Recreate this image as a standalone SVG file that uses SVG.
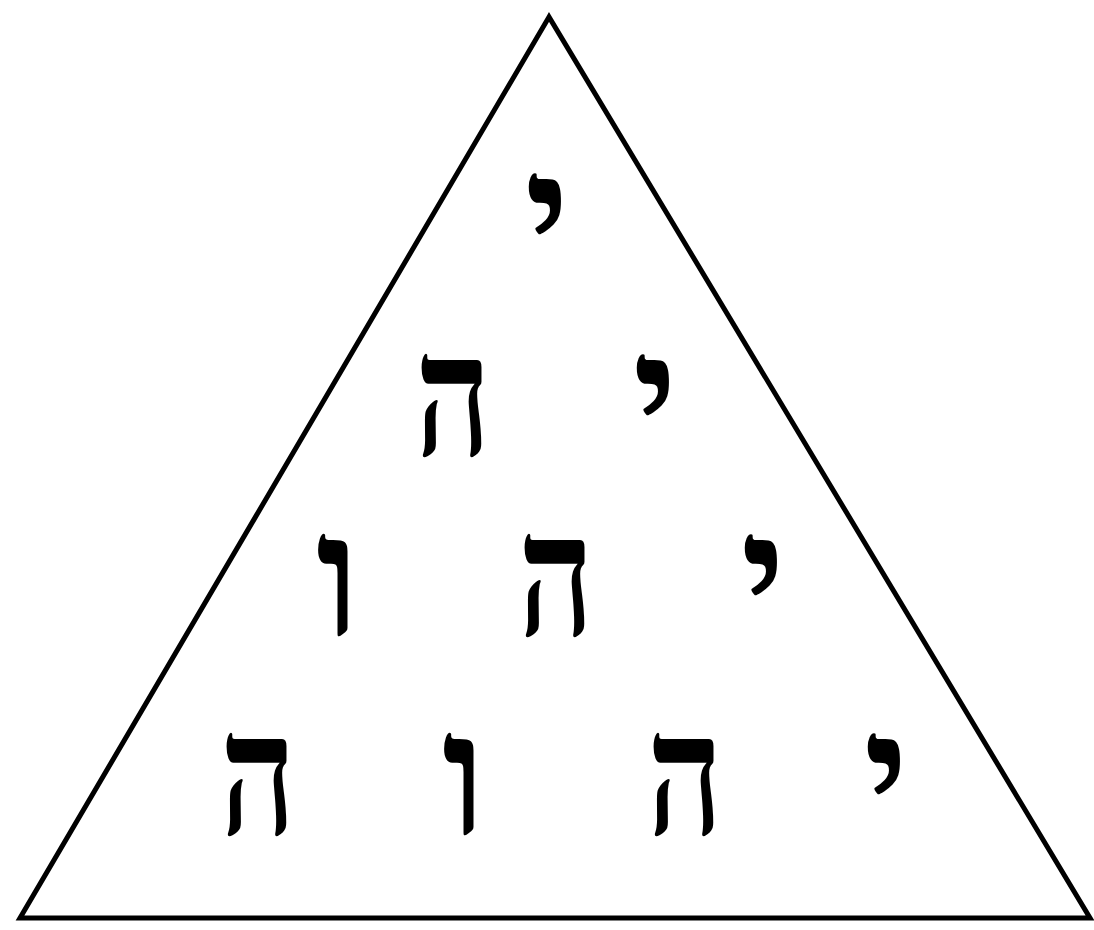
<svg xmlns="http://www.w3.org/2000/svg" width="1094" height="930" viewBox="0 0 1094 930">
<style>
.l{font-family:"Liberation Serif","DejaVu Serif",serif;font-weight:bold;font-size:172px;fill:#000;text-anchor:middle}
</style>
<rect width="1094" height="930" fill="#fff"/>
<g id="triangle"><polygon points="549,17 20,918 1090,918" fill="none" stroke="#000" stroke-width="5" stroke-linejoin="miter"/></g>
<g id="row1"><text class="l" x="547" y="274">י</text></g>
<g id="row2"><text class="l" x="453" y="455" textLength="76" lengthAdjust="spacingAndGlyphs">ה</text><text class="l" x="655" y="455">י</text></g>
<g id="row3"><text class="l" x="338" y="635">ו</text><text class="l" x="556" y="635" textLength="76" lengthAdjust="spacingAndGlyphs">ה</text><text class="l" x="763" y="635">י</text></g>
<g id="row4"><text class="l" x="258" y="834" textLength="76" lengthAdjust="spacingAndGlyphs">ה</text><text class="l" x="464" y="834">ו</text><text class="l" x="685" y="834" textLength="76" lengthAdjust="spacingAndGlyphs">ה</text><text class="l" x="886" y="834">י</text></g>
</svg>
